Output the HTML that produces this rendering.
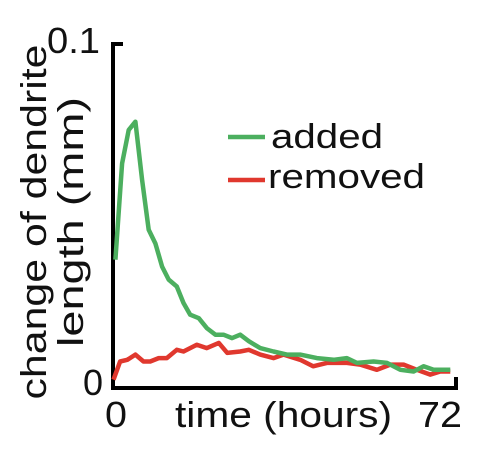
<!DOCTYPE html>
<html><head><meta charset="utf-8"><style>
html,body{margin:0;padding:0;background:#fff;}
svg text{font-family:"Liberation Sans",Arial,sans-serif;fill:#111;}
</style></head><body>
<svg width="490" height="464" viewBox="0 0 490 464">
<g id="axes">
<path d="M123,44 H113 V388 H456 V377" fill="none" stroke="#000" stroke-width="4"/>
</g>
<text x="100" y="53" font-size="36" text-anchor="end" textLength="53" lengthAdjust="spacingAndGlyphs">0.1</text>
<text x="103" y="395" font-size="36" text-anchor="end">0</text>
<text x="105" y="427" font-size="36" textLength="22" lengthAdjust="spacingAndGlyphs">0</text>
<text x="175" y="427" font-size="36" textLength="217" lengthAdjust="spacingAndGlyphs">time (hours)</text>
<text x="418" y="427" font-size="36" textLength="44" lengthAdjust="spacingAndGlyphs">72</text>
<text transform="translate(46,222) rotate(-90)" font-size="36" text-anchor="middle" textLength="355" lengthAdjust="spacingAndGlyphs">change of dendrite</text>
<text transform="translate(83,222) rotate(-90)" font-size="36" text-anchor="middle" textLength="250" lengthAdjust="spacingAndGlyphs">length (mm)</text>
<g>
<line x1="228" y1="137" x2="265" y2="137" stroke="#4caf5f" stroke-width="4.5"/>
<text x="271" y="148" font-size="34" textLength="112" lengthAdjust="spacingAndGlyphs">added</text>
<line x1="228" y1="180" x2="265" y2="180" stroke="#e0382e" stroke-width="4.5"/>
<text x="268" y="188" font-size="34" textLength="157" lengthAdjust="spacingAndGlyphs">removed</text>
</g>
<g id="series"></g>
</svg>
<script>
const addedT=[0.5,1.9,3.3,4.7,6.1,7.5,8.9,10.3,11.7,13.4,14.8,16.2,18,19.7,21.5,23.2,25,26.7,28.5,30.9,33.7,36.5,39.3,42.8,46.3,49.1,51.2,54.7,57.5,60.3,63.1,65.2,67.3,70.8];
const addedV=[0.0373,0.0653,0.075,0.0774,0.0605,0.046,0.042,0.0353,0.0315,0.0295,0.0247,0.0213,0.0203,0.0174,0.0155,0.0155,0.0145,0.0155,0.0136,0.0116,0.0106,0.0097,0.0097,0.0087,0.0082,0.0087,0.0073,0.0077,0.0073,0.0053,0.0048,0.0063,0.0053,0.0053];
const removedT=[0.1,1.5,3,4.7,6.4,7.8,9.6,11.3,13.4,14.8,17.6,19.7,22.2,24,26.7,28.5,30.9,33.7,35.8,39.3,42,44.9,49.1,51.9,55.4,58.2,61,63.8,66.6,68.7,70.8];
const removedV=[0.0024,0.0077,0.0082,0.0097,0.0077,0.0077,0.0087,0.0087,0.0111,0.0106,0.0126,0.0116,0.0131,0.0102,0.0106,0.0111,0.0097,0.0087,0.0097,0.0082,0.0063,0.0073,0.0073,0.0068,0.0053,0.0068,0.0068,0.0053,0.0039,0.0048,0.0048];
function xs(t){return 113+t*(343/72);}
function ys(v){return 388-v*3440;}
const g=document.getElementById('series');
function draw(T,V,color,name){
  const p=document.createElementNS('http://www.w3.org/2000/svg','path');
  p.setAttribute('d',T.map((t,i)=>(i?'L':'M')+xs(t).toFixed(1)+','+ys(V[i]).toFixed(1)).join(' '));
  p.setAttribute('fill','none');p.setAttribute('stroke',color);p.setAttribute('stroke-width','4.5');
  p.setAttribute('stroke-linejoin','round');
  
  
  g.appendChild(p);
}
draw(removedT,removedV,'#e0382e','removed-line');
draw(addedT,addedV,'#4caf5f','added-line');
</script>
</body></html>
